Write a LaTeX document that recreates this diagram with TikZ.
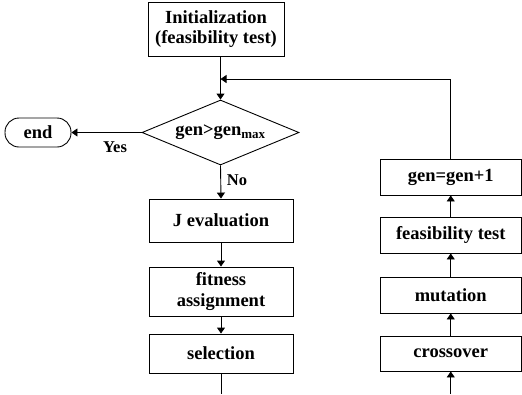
\documentclass[tikz,border=0pt]{standalone}
\usepackage{fontspec}
\setmainfont{Liberation Serif}
\usetikzlibrary{shapes.geometric,arrows.meta}
\begin{document}
\begin{tikzpicture}[x=1pt,y=-1pt,
  every node/.style={font=\fontsize{18.5}{20.5}\selectfont\bfseries},
  box/.style={draw,line width=0.9pt,inner sep=0pt,align=center},
  lbl/.style={font=\fontsize{16.5}{18}\selectfont\bfseries,inner sep=0pt},
  arr/.style={line width=0.9pt,-{Triangle[width=8pt,length=6pt]}},
  ln/.style={line width=0.9pt}]
\useasboundingbox (0,0) rectangle (522,394);
\node[box,minimum width=136pt,minimum height=54pt] (init) at (216,29) {Initialization\\(feasibility test)};
\node[box,shape=diamond,aspect=2.4,minimum width=157pt,minimum height=65pt] (d) at (220.5,132.5) {gen>gen\textsubscript{max}};
\node[box,rounded corners=14pt,minimum width=66pt,minimum height=29pt] (end) at (38,132.5) {end};
\node[box,minimum width=144pt,minimum height=43pt] (J) at (221,220.5) {J evaluation};
\node[box,minimum width=144pt,minimum height=49pt] (fit) at (221,291.5) {fitness\\assignment};
\node[box,minimum width=144pt,minimum height=39pt] (sel) at (221,353.5) {selection};
\node[box,minimum width=141.5pt,minimum height=36pt] (gen) at (450.75,177) {gen=gen+1};
\node[box,minimum width=141.5pt,minimum height=36pt] (feas) at (450.75,235) {feasibility test};
\node[box,minimum width=141.5pt,minimum height=36pt] (mut) at (450.75,295) {mutation};
\node[box,minimum width=141.5pt,minimum height=35pt] (cross) at (450.75,353.5) {crossover};
\node[lbl] (yes) at (115,147) {Yes};
\node[lbl] (no) at (237,180) {No};
\coordinate (fb) at (220.5,79);
\coordinate (selout) at (221,394);
\coordinate (crossin) at (450.75,394);
\draw[arr] (init.south -| d.north) -- (d.north);
\draw[arr] (gen.north) |- (fb);
\draw[arr] (d.west) -- (end.east);
\draw[arr] (d.south) -- (J.north);
\draw[arr] (J.south) -- (fit.north);
\draw[arr] (fit.south) -- (sel.north);
\draw[ln] (sel.south) -- (selout);
\draw[arr] (crossin) -- (cross.south);
\draw[arr] (cross.north) -- (mut.south);
\draw[arr] (mut.north) -- (feas.south);
\draw[arr] (feas.north) -- (gen.south);
\end{tikzpicture}
\end{document}
